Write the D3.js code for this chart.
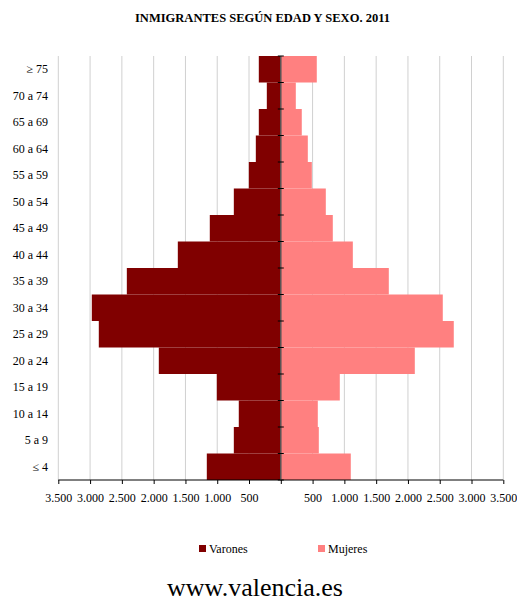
<!DOCTYPE html>
<html><head><meta charset="utf-8">
<script src="https://cdn.jsdelivr.net/npm/d3@7"></script>
<style>
body{margin:0;background:#fff;}
svg, svg text{font-family:"Liberation Serif","Times New Roman",Times,serif !important;fill:#000;}
</style></head>
<body><svg id="c" width="517" height="601" font-family="Liberation Serif, Times New Roman, serif"></svg>
<script>
const categories = ["≥ 75","70 a 74","65 a 69","60 a 64","55 a 59","50 a 54","45 a 49","40 a 44","35 a 39","30 a 34","25 a 29","20 a 24","15 a 19","10 a 14","5 a 9","≤ 4"];
const varones = [346,220,346,393,503,739,1117,1620,2422,2973,2863,1919,1007,661,739,1164];
const mujeres = [566,236,330,425,488,708,818,1133,1699,2548,2721,2108,928,582,598,1101];
const tickValues = [-3500,-3000,-2500,-2000,-1500,-1000,-500,0,500,1000,1500,2000,2500,3000,3500];
const seriesNames = ["Varones","Mujeres"];
const colors = ["#800000","#FF8080"];

const FONT = "Liberation Serif, Times New Roman, serif";
const svg = d3.select("#c");
const x = d3.scaleLinear().domain([-3500,3500]).range([58.3,503.3]);
const y = d3.scaleBand().domain(categories).range([56,480]).padding(0);
const loc = d3.formatLocale({decimal:",",thousands:".",grouping:[3],currency:["","€"]});
const fmt = loc.format(",d");

// title
svg.append("text").attr("x",262.5).attr("y",22).attr("text-anchor","middle").attr("font-family",FONT)
  .attr("font-size",13).attr("font-weight","bold").attr("textLength",255).attr("lengthAdjust","spacingAndGlyphs")
  .text("INMIGRANTES SEGÚN EDAD Y SEXO. 2011");

// gridlines
svg.append("g").selectAll("line").data(tickValues.filter(d=>d!==0)).join("line")
  .attr("x1",d=>x(d)).attr("x2",d=>x(d)).attr("y1",56).attr("y2",480)
  .attr("stroke","#d0d0d0").attr("stroke-width",1);

// bars
svg.append("g").selectAll("rect").data(categories).join("rect")
  .attr("x",(d,i)=>x(-varones[i])).attr("width",(d,i)=>x(0)-x(-varones[i]))
  .attr("y",d=>y(d)).attr("height",y.bandwidth()).attr("fill",colors[0]);
svg.append("g").selectAll("rect").data(categories).join("rect")
  .attr("x",x(0)).attr("width",(d,i)=>x(mujeres[i])-x(0))
  .attr("y",d=>y(d)).attr("height",y.bandwidth()).attr("fill",colors[1]);

// x axis
const xAxis = d3.axisBottom(x).tickValues(tickValues).tickSize(4)
  .tickFormat(d=> d===0 ? "" : fmt(Math.abs(d)));
const gx = svg.append("g").attr("transform","translate(0,480)").call(xAxis)
  .attr("font-family",FONT).attr("font-size",12);
gx.select(".domain").attr("stroke","#000").attr("d",`M${x(-3500)},0H${x(3500)}`);
gx.selectAll(".tick line").attr("stroke","#000");
gx.selectAll(".tick text").attr("font-family",FONT).attr("font-size",12).attr("y",13).attr("fill","#000");

// y axis at zero
svg.append("line").attr("x1",x(0)).attr("x2",x(0)).attr("y1",56).attr("y2",480)
  .attr("stroke","#555").attr("stroke-width",1.5);
const bounds = categories.map(c=>y(c)).concat([y.range()[1]]);
svg.append("g").selectAll("line").data(bounds).join("line")
  .attr("x1",x(0)-3).attr("x2",x(0)+3).attr("y1",d=>d).attr("y2",d=>d)
  .attr("stroke","#000").attr("stroke-width",1);

// y labels
svg.append("g").selectAll("text").data(categories).join("text")
  .attr("x",48).attr("y",d=>y(d)+y.bandwidth()/2).attr("dy","0.35em").attr("font-family",FONT)
  .attr("text-anchor","end").attr("font-size",12).text(d=>d);

// legend
const leg = [{x:199},{x:318}];
leg.forEach((l,i)=>{
  svg.append("rect").attr("x",l.x).attr("y",545).attr("width",7).attr("height",7).attr("fill",colors[i]);
  svg.append("text").attr("x",l.x+10).attr("y",549).attr("dy","0.35em").attr("font-family",FONT)
    .attr("font-size",12).text(seriesNames[i]);
});

// footer
svg.append("text").attr("x",255).attr("y",596).attr("text-anchor","middle").attr("font-size",26).attr("font-family",FONT)
  .text("www.valencia.es");
</script></body></html>
